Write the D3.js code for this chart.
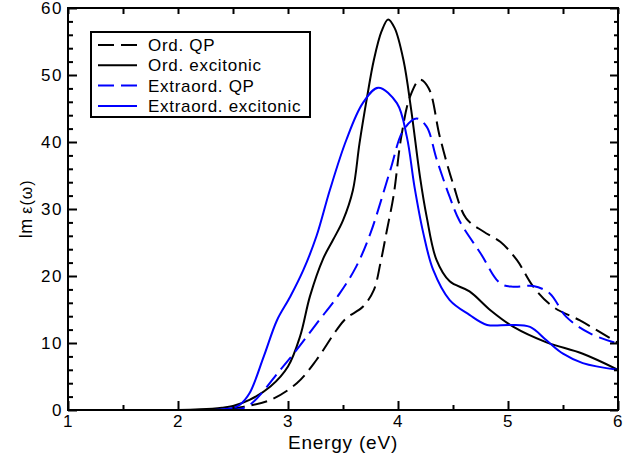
<!DOCTYPE html>
<html>
<head>
<meta charset="utf-8">
<script src="https://cdn.jsdelivr.net/npm/d3@7"></script>
<style>
  body { margin: 0; background: #fff; }
  svg text { font-family: "Liberation Sans", Arial, Helvetica, sans-serif; fill: #000; }
</style>
</head>
<body>
<svg id="chart" width="624" height="460"></svg>
<script>
// values (energy in eV, Im eps)
const ordQPE = [1.0, 2.4, 2.6, 2.84, 3.08, 3.26, 3.44, 3.53, 3.68, 3.78, 3.84, 3.9, 3.96, 4.03, 4.11, 4.2, 4.28, 4.38, 4.5, 4.62, 4.78, 4.93, 5.08, 5.23, 5.41, 5.65, 6.0]
const ordQPV = [0, 0, 0.5, 1.5, 4.0, 7.5, 11.9, 13.7, 15.4, 17.9, 21.9, 26.9, 32, 40.8, 46.8, 49.3, 48.0, 40.8, 33.8, 28.6, 26.6, 25.1, 22.4, 18.4, 15.4, 13.4, 10.0]

const ordExcE = [1.0, 2.0, 2.2, 2.4, 2.5, 2.65, 2.84, 3.0, 3.11, 3.2, 3.32, 3.41, 3.5, 3.59, 3.65, 3.72, 3.78, 3.85, 3.91, 3.97, 4.05, 4.12, 4.2, 4.26, 4.35, 4.47, 4.65, 4.84, 5.05, 5.35, 5.68, 6.0]
const ordExcV = [0, 0, 0.1, 0.35, 0.6, 1.5, 3.5, 6.5, 11.0, 17.0, 22.6, 25.4, 28.3, 32.8, 39.8, 46.8, 52.2, 56.5, 58.3, 57.0, 52.2, 44.8, 34.8, 28.9, 22.4, 19.2, 17.7, 14.9, 12.4, 10.1, 8.4, 6.0]

const exQPE = [1.0, 2.5, 2.65, 2.93, 3.08, 3.26, 3.47, 3.62, 3.75, 3.93, 4.05, 4.17, 4.26, 4.35, 4.47, 4.56, 4.75, 4.93, 5.05, 5.23, 5.38, 5.53, 5.75, 6.0]
const exQPV = [0, 0, 0.75, 6.0, 9.0, 12.9, 17.4, 21.4, 26.4, 35.8, 41.8, 43.5, 42.3, 37.5, 31.8, 28.2, 23.4, 18.9, 18.4, 18.5, 17.4, 13.9, 11.4, 9.9]

const exExcE = [1.0, 2.3, 2.5, 2.56, 2.65, 2.78, 2.9, 3.02, 3.14, 3.26, 3.38, 3.53, 3.68, 3.82, 3.99, 4.08, 4.15, 4.23, 4.32, 4.47, 4.65, 4.81, 5.02, 5.2, 5.35, 5.5, 5.68, 6.0]
const exExcV = [0, 0, 0.3, 0.75, 2.5, 8.0, 13.4, 16.9, 20.9, 26.0, 32.8, 40.3, 45.8, 48.1, 45.8, 40.8, 33.3, 26.4, 20.9, 16.4, 14.2, 12.7, 12.7, 12.4, 10.4, 8.4, 7.0, 6.0]

const seriesNames = ["Ord. QP", "Ord. excitonic", "Extraord. QP", "Extraord. excitonic"]
const xTicks = [1, 2, 3, 4, 5, 6]
const yTicks = [0, 10, 20, 30, 40, 50, 60]

const svg = d3.select("#chart")
const x = d3.scaleLinear().domain([1, 6]).range([68, 618])
const y = d3.scaleLinear().domain([0, 60]).range([410, 8])

const series = [
    {name: seriesNames[0], e: ordQPE, v: ordQPV, color: "#000", dash: "16,7"},
    {name: seriesNames[1], e: ordExcE, v: ordExcV, color: "#000", dash: null},
    {name: seriesNames[2], e: exQPE, v: exQPV, color: "#0000ff", dash: "16,7"},
    {name: seriesNames[3], e: exExcE, v: exExcV, color: "#0000ff", dash: null}
]

const line = d3.line()
    .x(d => x(d[0]))
    .y(d => y(Math.max(d[1], 0)))
    .curve(d3.curveCatmullRom.alpha(0.5))

svg.append("defs").append("clipPath").attr("id", "plot-clip")
    .append("rect").attr("x", 68).attr("y", 8).attr("width", 550).attr("height", 402)

const linesG = svg.append("g").attr("clip-path", "url(#plot-clip)")
series.forEach(s => {
    linesG.append("path")
        .datum(s.e.map((e, i) => [e, s.v[i]]))
        .attr("d", line)
        .attr("fill", "none")
        .attr("stroke", s.color)
        .attr("stroke-width", 2)
        .attr("stroke-dasharray", s.dash)
})

// axes, ticks point inward
const minorX = d3.range(1.5, 6, 1)
const minorY = d3.range(2, 60, 2).filter(v => v % 10 !== 0)

function styleAxis(g){
    g.select(".domain").remove()
    g.selectAll(".tick line").attr("stroke", "#000").attr("stroke-width", 2)
    g.selectAll("text").style("font-size", "17px").style("letter-spacing", "1.5px")
}

svg.append("g").attr("transform", "translate(0,410)")
    .call(d3.axisBottom(x).tickValues(xTicks).tickSizeInner(-9).tickSizeOuter(0).tickPadding(5).tickFormat(d3.format("d")))
    .call(styleAxis)
svg.append("g").attr("transform", "translate(0,410)")
    .call(d3.axisBottom(x).tickValues(minorX).tickSizeInner(-5).tickSizeOuter(0).tickFormat(""))
    .call(styleAxis)
svg.append("g").attr("transform", "translate(68,0)")
    .call(d3.axisLeft(y).tickValues(yTicks).tickSizeInner(-9).tickSizeOuter(0).tickPadding(5).tickFormat(d3.format("d")))
    .call(styleAxis)
svg.append("g").attr("transform", "translate(68,0)")
    .call(d3.axisLeft(y).tickValues(minorY).tickSizeInner(-5).tickSizeOuter(0).tickFormat(""))
    .call(styleAxis)
svg.append("g").attr("transform", "translate(0,8)")
    .call(d3.axisTop(x).tickValues(xTicks.concat(minorX)).tickSizeInner(-6).tickSizeOuter(0).tickFormat(""))
    .call(styleAxis)
svg.append("g").attr("transform", "translate(618,0)")
    .call(d3.axisRight(y).tickValues(yTicks).tickSizeInner(-8).tickSizeOuter(0).tickFormat(""))
    .call(styleAxis)
svg.append("g").attr("transform", "translate(618,0)")
    .call(d3.axisRight(y).tickValues(minorY).tickSizeInner(-4).tickSizeOuter(0).tickFormat(""))
    .call(styleAxis)

svg.append("rect")
    .attr("x", 68).attr("y", 8).attr("width", 550).attr("height", 402)
    .attr("fill", "none").attr("stroke", "#000").attr("stroke-width", 2)

// axis titles
svg.append("text")
    .attr("x", 343).attr("y", 449)
    .attr("text-anchor", "middle")
    .style("font-size", "19px").style("letter-spacing", "0.8px")
    .text("Energy (eV)")

const yTitle = svg.append("text")
    .attr("transform", "translate(32,209) rotate(-90)")
    .attr("text-anchor", "middle")
yTitle.append("tspan").style("font-size", "18px").text("Im ")
yTitle.append("tspan").style("font-size", "16px").style("letter-spacing", "1px").text("ε(ω)")

// legend
const legend = svg.append("g")
legend.append("rect")
    .attr("x", 91).attr("y", 32).attr("width", 219).attr("height", 85)
    .attr("fill", "#fff").attr("stroke", "#000").attr("stroke-width", 2)
series.forEach((s, i) => {
    const ly = 45 + i*20.3
    legend.append("line")
        .attr("x1", 98).attr("x2", 137).attr("y1", ly).attr("y2", ly)
        .attr("stroke", s.color).attr("stroke-width", 2)
        .attr("stroke-dasharray", s.dash)
    legend.append("text")
        .attr("x", 148).attr("y", ly + 6)
        .style("font-size", "17px").style("letter-spacing", "0.7px")
        .text(s.name)
})
</script>
</body>
</html>
